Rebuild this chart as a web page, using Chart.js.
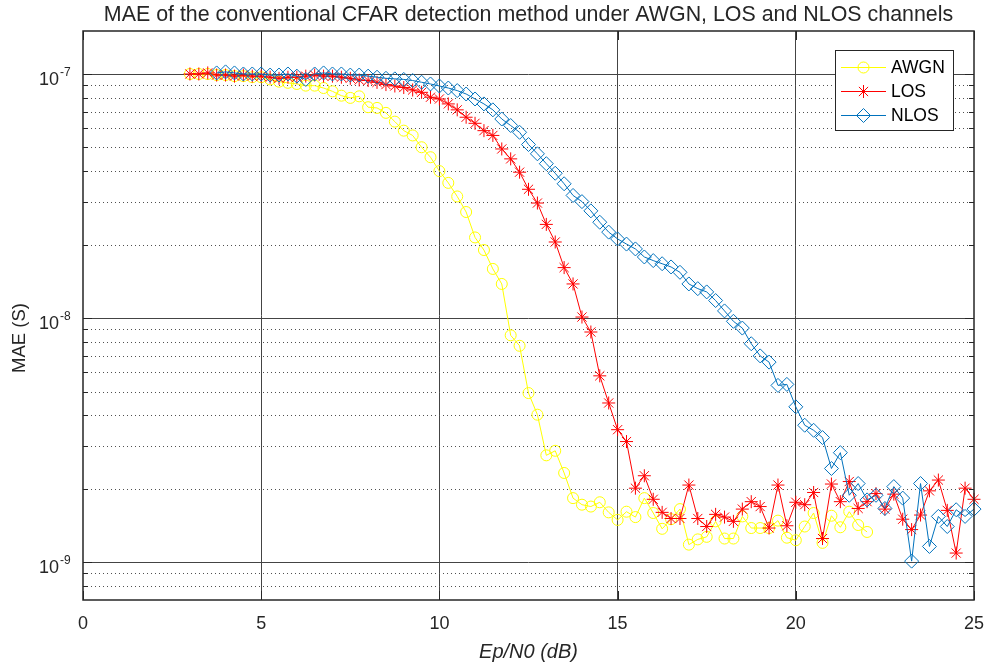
<!DOCTYPE html>
<html>
<head>
<meta charset="utf-8">
<script src="https://cdn.jsdelivr.net/npm/chart.js@4.4.1/dist/chart.umd.min.js"></script>
<style>
  html, body { margin: 0; padding: 0; background: #fff; }
</style>
</head>
<body>
<canvas id="chart" width="987" height="668"></canvas>
<script>
// Ep/N0 grid of the simulation (dB)
const snrStep = 0.25;
const awgnStart = 3;
const losStart = 3;
const nlosStart = 3.75;

// MAE, in units of 1e-9 s
const awgnMae = [
  100, 100, 100, 99, 99, 98, 98, 97, 97, 95, 93, 92,
  91, 89.6, 89.6, 87.6, 84.9, 81.5, 79.8, 81, 73.1, 72.6, 69.3, 63.8,
  58.6, 56, 50.1, 45.6, 40, 35.8, 31.5, 27.2, 21.4, 19, 15.9, 13.8,
  8.5, 7.7, 4.93, 4.02, 2.74, 2.86, 2.32, 1.83, 1.72, 1.69, 1.76, 1.60,
  1.49, 1.61, 1.53, 1.83, 1.59, 1.37, 1.50, 1.65, 1.18, 1.24, 1.27, 1.47,
  1.25, 1.25, 1.54, 1.38, 1.38, 1.38, 1.48, 1.26, 1.23, 1.40, 1.59, 1.20,
  1.55, 1.39, 1.61, 1.42, 1.33,
];
const losMae = [
  100, 100, 101, 99, 99, 98, 99, 98, 98, 97, 96, 97,
  97, 98, 99, 98, 98, 97, 96, 94.5, 94, 92.4, 90.5, 89.3,
  88, 86, 84.1, 80.3, 79, 75.4, 71.3, 66.5, 62.8, 58.6, 56, 49.3,
  44.9, 39.6, 33.7, 29.6, 24.2, 20.5, 16.1, 13.8, 10.1, 8.77, 5.8, 4.49,
  3.49, 3.12, 2.01, 2.26, 1.81, 1.60, 1.51, 1.51, 2.07, 1.51, 1.40, 1.57,
  1.53, 1.47, 1.65, 1.77, 1.69, 1.38, 2.07, 1.41, 1.76, 1.72, 1.93, 1.25,
  2.09, 1.77, 2.14, 1.66, 1.77, 1.91, 1.65, 1.90, 1.50, 1.36, 1.56, 1.96,
  2.17, 1.63, 1.09, 2.01, 1.81,
];
const nlosMae = [
  101, 102, 101, 100, 100, 100, 99, 99, 100, 98, 95, 100,
  101, 100, 100, 99, 99, 98, 97, 96, 95.5, 95, 94, 92.5,
  91, 89.3, 87.6, 85.5, 82.8, 79, 75.4, 71.3, 65.4, 61.5, 57.7, 51.4,
  47.1, 42.9, 39.2, 35.5, 31.8, 30, 27.5, 24.7, 22.5, 21.1, 20.1, 19.2,
  17.8, 17.2, 16.7, 16.2, 15.4, 13.8, 13.2, 12.8, 11.8, 10.7, 9.7, 9.1,
  7.85, 7.0, 6.6, 5.3, 5.35, 4.33, 3.64, 3.47, 3.24, 2.42, 2.81, 1.88,
  2.10, 1.80, 1.88, 1.66, 2.04, 1.83, 1.01, 2.10, 1.16, 1.54, 1.40, 1.64,
  1.54, 1.65,
];

const seriesNames = ['AWGN', 'LOS', 'NLOS'];
const seriesColors = ['#ffff00', '#ff0000', '#0072bd'];
const seriesMarkers = ['circle', 'star', 'rectRot'];
const markerSizes = [5.5, 6.5, 7];

const xTicks = [0, 5, 10, 15, 20, 25];
const yDecades = [-9, -8, -7];
const yMin = 7e-10;
const yMax = 1.5e-7;

const FONT = "'Liberation Sans', Arial, Helvetica, sans-serif";
const TEXT = '#262626';

// Helper to turn a start + MAE list into {x, y} points
function toPoints(start, values) {
  return values.map((v, i) => ({x: start + i * snrStep, y: v * 1e-9}));
}

// minor log grid (2..9 x 10^n) inside the axis range
const yMinorGrid = [];
[-10, -9, -8, -7].forEach(e => {
  for (let m = 2; m <= 9; m++) {
    const v = m * Math.pow(10, e);
    if (v > yMin * 1.001 && v < yMax) yMinorGrid.push(v);
  }
});

function makeDataset(i, start, values) {
  return {
    label: seriesNames[i],
    data: toPoints(start, values),
    borderColor: seriesColors[i],
    backgroundColor: 'rgba(0,0,0,0)',
    borderWidth: 1,
    pointStyle: seriesMarkers[i],
    pointRadius: markerSizes[i],
    pointBorderWidth: 1,
    pointBorderColor: seriesColors[i],
    pointBackgroundColor: 'rgba(0,0,0,0)',
    tension: 0,
    clip: false,
    order: 3 - i,  // NLOS on top, AWGN at the bottom
  };
}

function hLine(ctx, area, py) {
  py = Math.round(py) + 0.5;
  ctx.beginPath();
  ctx.moveTo(area.left, py);
  ctx.lineTo(area.right, py);
  ctx.stroke();
}

const axesDecor = {
  id: 'axesDecor',
  beforeDatasetsDraw(chart) {
    const {ctx, chartArea: area, scales: {y}} = chart;
    ctx.save();
    ctx.lineWidth = 1;
    ctx.strokeStyle = '#505050';
    ctx.setLineDash([1, 3]);
    yMinorGrid.forEach(v => hLine(ctx, area, y.getPixelForValue(v)));
    ctx.setLineDash([]);
    ctx.strokeStyle = '#444444';
    yDecades.forEach(e => hLine(ctx, area, y.getPixelForValue(Math.pow(10, e))));
    ctx.restore();
  },

  afterDraw(chart) {
    const {ctx, chartArea: area, scales: {x, y}} = chart;
    ctx.save();

    // axes box
    ctx.strokeStyle = TEXT;
    ctx.lineWidth = 1.5;
    ctx.strokeRect(area.left, area.top, area.right - area.left, area.bottom - area.top);

    // inner tick marks on all four sides
    ctx.lineWidth = 1;
    ctx.beginPath();
    xTicks.forEach(t => {
      const px = Math.round(x.getPixelForValue(t)) + 0.5;
      ctx.moveTo(px, area.bottom); ctx.lineTo(px, area.bottom - 9);
      ctx.moveTo(px, area.top); ctx.lineTo(px, area.top + 9);
    });
    yDecades.forEach(e => {
      const py = Math.round(y.getPixelForValue(Math.pow(10, e))) + 0.5;
      ctx.moveTo(area.left, py); ctx.lineTo(area.left + 9, py);
      ctx.moveTo(area.right, py); ctx.lineTo(area.right - 9, py);
    });
    yMinorGrid.forEach(v => {
      const py = Math.round(y.getPixelForValue(v)) + 0.5;
      ctx.moveTo(area.left, py); ctx.lineTo(area.left + 5, py);
      ctx.moveTo(area.right, py); ctx.lineTo(area.right - 5, py);
    });
    ctx.stroke();

    // y tick labels as 10^n
    ctx.fillStyle = TEXT;
    yDecades.forEach(e => {
      const py = y.getPixelForValue(Math.pow(10, e));
      ctx.font = `18px ${FONT}`;
      ctx.textAlign = 'right';
      ctx.textBaseline = 'alphabetic';
      ctx.fillText('10', area.left - 24, py + 11);
      ctx.font = `12px ${FONT}`;
      ctx.textAlign = 'left';
      ctx.fillText(String(e), area.left - 23, py + 2);
    });

    // y axis title
    ctx.save();
    ctx.translate(20, 338);
    ctx.rotate(-Math.PI / 2);
    ctx.font = `18.5px ${FONT}`;
    ctx.textAlign = 'center';
    ctx.textBaseline = 'middle';
    ctx.fillText('MAE (S)', 0, 0);
    ctx.restore();

    // title, centred on the plot area
    ctx.font = `21.4px ${FONT}`;
    ctx.textAlign = 'center';
    ctx.textBaseline = 'middle';
    ctx.fillText(
        'MAE of the conventional CFAR detection method under AWGN, LOS and NLOS channels',
        (area.left + area.right) / 2, 15);

    // legend box
    const lx = 835.5, ly = 50.5, lw = 118, lh = 80;
    ctx.fillStyle = '#ffffff';
    ctx.fillRect(lx, ly, lw, lh);
    ctx.strokeStyle = '#262626';
    ctx.lineWidth = 1;
    ctx.strokeRect(lx, ly, lw, lh);

    chart.data.datasets.forEach((ds, i) => {
      const cy = 67 + i * 24;
      ctx.strokeStyle = ds.borderColor;
      ctx.lineWidth = 1;
      ctx.beginPath();
      ctx.moveTo(841, cy + 0.5);
      ctx.lineTo(886, cy + 0.5);
      ctx.stroke();
      ctx.fillStyle = 'rgba(0,0,0,0)';
      Chart.helpers.drawPoint(ctx, {
        pointStyle: ds.pointStyle,
        radius: ds.pointRadius,
        rotation: 0,
        borderWidth: 1,
      }, 863.5, cy + 0.5);
      ctx.fillStyle = '#000000';
      ctx.font = `17.5px ${FONT}`;
      ctx.textAlign = 'left';
      ctx.textBaseline = 'middle';
      ctx.fillText(ds.label, 891, cy + 1);
    });

    ctx.restore();
  },
};

const chart = new Chart(document.getElementById('chart').getContext('2d'), {
  type: 'line',
  data: {
    datasets: [
      makeDataset(0, awgnStart, awgnMae),
      makeDataset(1, losStart, losMae),
      makeDataset(2, nlosStart, nlosMae),
    ],
  },
  options: {
    responsive: false,
    animation: false,
    events: [],
    layout: {padding: {left: 0, right: 13, top: 31, bottom: 0}},
    plugins: {
      legend: {display: false},
      tooltip: {enabled: false},
    },
    scales: {
      x: {
        type: 'linear',
        min: 0,
        max: 25,
        afterBuildTicks: scale => {
          scale.ticks = xTicks.map(v => ({value: v}));
        },
        afterFit: scale => {
          scale.height = 68;
          // keep the plot box fixed, labels may overhang
          scale.paddingLeft = 0;
          scale.paddingRight = 0;
        },
        grid: {
          drawTicks: false,
          lineWidth: 1,
          color: c => (c.tick && (c.tick.value === 0 || c.tick.value === 25)) ?
              'rgba(0,0,0,0)' : '#444444',
        },
        border: {display: false},
        ticks: {
          padding: 13,
          color: TEXT,
          font: {family: FONT, size: 18},
          maxRotation: 0,
        },
        title: {
          display: true,
          text: 'Ep/N0 (dB)',
          color: TEXT,
          font: {family: FONT, size: 20, style: 'italic'},
          padding: {top: 0, bottom: 4},
        },
      },
      y: {
        type: 'logarithmic',
        min: yMin,
        max: yMax,
        afterFit: scale => {
          scale.width = 83;
          scale.paddingTop = 0;
          scale.paddingBottom = 0;
        },
        grid: {display: false},
        border: {display: false},
        ticks: {display: false},
      },
    },
  },
  plugins: [axesDecor],
});
</script>
</body>
</html>
